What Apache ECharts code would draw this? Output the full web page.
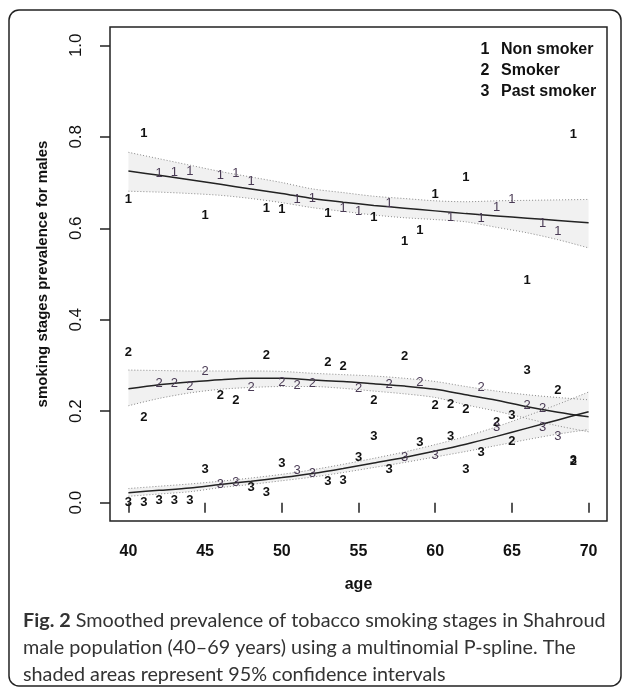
<!DOCTYPE html>
<html>
<head>
<meta charset="utf-8">
<script src="https://cdn.jsdelivr.net/npm/echarts@6/dist/echarts.min.js"></script>
<style>
html,body{margin:0;padding:0;background:#fff;}
#chart{width:630px;height:689px;}
</style>
</head>
<body>
<div id="chart"></div>
<script>
// Observed prevalence by single year of age
const ages = [40,41,42,43,44,45,46,47,48,49,50,51,52,53,54,55,56,57,58,59,60,61,62,63,64,65,66,67,68,69];
const nonSmoker = [0.662,0.808,0.720,0.723,0.725,0.627,0.716,0.720,0.703,0.644,0.642,0.662,0.665,0.633,0.644,0.636,0.624,0.655,0.572,0.596,0.675,0.624,0.712,0.622,0.646,0.664,0.487,0.611,0.594,0.806];
const smoker = [0.328,0.186,0.260,0.260,0.255,0.288,0.234,0.223,0.253,0.321,0.264,0.256,0.260,0.306,0.297,0.249,0.223,0.258,0.319,0.264,0.212,0.214,0.203,0.251,0.175,0.133,0.212,0.207,0.245,0.090];
const pastSmoker = [0.000,0.000,0.006,0.006,0.006,0.072,0.039,0.044,0.033,0.022,0.085,0.070,0.063,0.046,0.048,0.100,0.144,0.073,0.100,0.131,0.103,0.144,0.073,0.111,0.164,0.190,0.290,0.164,0.146,0.092];

// Smoothed P-spline fits and 95% CI
const fitAges = [40,42,44,46,48,50,52,54,56,58,60,62,64,66,68,70];
const nonFit   = [0.725,0.716,0.706,0.696,0.686,0.676,0.665,0.657,0.650,0.644,0.638,0.632,0.627,0.622,0.617,0.612];
const nonUpper = [0.766,0.752,0.738,0.724,0.712,0.700,0.686,0.678,0.670,0.665,0.660,0.658,0.660,0.661,0.662,0.663];
const nonLower = [0.681,0.679,0.676,0.672,0.665,0.656,0.645,0.637,0.629,0.623,0.619,0.614,0.602,0.590,0.575,0.557];
const smFit    = [0.249,0.258,0.264,0.269,0.272,0.272,0.268,0.265,0.260,0.255,0.248,0.236,0.224,0.210,0.198,0.188];
const smUpper  = [0.290,0.289,0.288,0.288,0.288,0.287,0.283,0.280,0.277,0.272,0.265,0.254,0.244,0.236,0.230,0.225];
const smLower  = [0.212,0.228,0.240,0.248,0.252,0.254,0.254,0.250,0.244,0.238,0.230,0.214,0.200,0.184,0.168,0.155];
const pastFit  = [0.022,0.027,0.032,0.040,0.047,0.055,0.064,0.075,0.087,0.099,0.113,0.128,0.145,0.163,0.181,0.199];
const pastUpper= [0.031,0.036,0.041,0.047,0.054,0.062,0.072,0.084,0.097,0.111,0.127,0.145,0.166,0.190,0.215,0.242];
const pastLower= [0.014,0.019,0.024,0.033,0.040,0.048,0.056,0.066,0.077,0.088,0.100,0.112,0.125,0.138,0.150,0.160];

const xTicks = [40,45,50,55,60,65,70];
const yTicks = [0,0.2,0.4,0.6,0.8,1.0];
const legendCodes = ['1','2','3'];
const legendNames = ['Non smoker','Smoker','Past smoker'];

function interp(arr, a){
  for(let i=0;i<fitAges.length-1;i++){
    if(a>=fitAges[i] && a<=fitAges[i+1]){
      const t=(a-fitAges[i])/(fitAges[i+1]-fitAges[i]);
      return arr[i]+(arr[i+1]-arr[i])*t;
    }
  }
  return arr[arr.length-1];
}

function bandSeries(lower, upper){
  return {
    type:'custom', silent:true, z:1, clip:true,
    data:[[55,0.5]],
    renderItem:function(params, api){
      const pts=[];
      for(let i=0;i<fitAges.length;i++) pts.push(api.coord([fitAges[i], upper[i]]));
      for(let i=fitAges.length-1;i>=0;i--) pts.push(api.coord([fitAges[i], lower[i]]));
      return {type:'polygon', shape:{points:pts}, style:{fill:'#f1f1f1', stroke:null}};
    }
  };
}
function lineSeries(vals, dotted){
  return {
    type:'line', silent:true, z: dotted?2:3, symbol:'none', smooth:0.3,
    data: fitAges.map((a,i)=>[a, vals[i]]),
    lineStyle: dotted ? {color:'#8a8a8a', width:1, type:[1,2]} : {color:'#222', width:1.5}
  };
}
function pointSeries(vals, code, lower, upper){
  return {
    type:'custom', silent:true, z:5, clip:false,
    data: ages.map((a,i)=>[a, vals[i]]),
    renderItem:function(params, api){
      const a=api.value(0), v=api.value(1);
      const c=api.coord([a,v]);
      const inBand = v >= interp(lower,a)-0.004 && v <= interp(upper,a)+0.004;
      return {type:'text', x:c[0], y:c[1], style:{
        text:code, align:'center', verticalAlign:'middle',
        fontFamily:'Liberation Sans, Arial, sans-serif', fontSize:13,
        fontWeight: inBand ? 'normal' : 'bold',
        fill: inBand ? '#4a3b55' : '#111'
      }};
    }
  };
}

const chart = echarts.init(document.getElementById('chart'), null, {renderer:'canvas'});
const legendGraphics = [];
legendCodes.forEach((c,i)=>{
  legendGraphics.push({type:'text', x:485, y:50+i*21, style:{text:c, fontFamily:'Liberation Sans, Arial', fontSize:16, fontWeight:'bold', fill:'#111', align:'center', verticalAlign:'middle'}});
  legendGraphics.push({type:'text', x:501, y:50+i*21, style:{text:legendNames[i], fontFamily:'"Liberation Sans", Arial', fontSize:16, fontWeight:'bold', fill:'#111', align:'left', verticalAlign:'middle'}});
});

chart.setOption({
  animation:false,
  backgroundColor:'#fff',
  grid:{left:110, right:23, top:27, bottom:168, show:true, borderColor:'#222', borderWidth:1.5, backgroundColor:'transparent'},
  xAxis:{
    type:'value', min:38.8, max:71.2,
    name:'age', nameLocation:'middle', nameGap:56,
    nameTextStyle:{fontFamily:'Liberation Sans, Arial', fontWeight:'bold', fontSize:16, color:'#111'},
    axisLine:{show:false},
    axisTick:{show:true, inside:false, length:10, lineStyle:{color:'#222', width:1.5}, customValues:xTicks},
    axisLabel:{show:true, margin:23, fontFamily:'Liberation Sans, Arial', fontWeight:'bold', fontSize:16, color:'#111', customValues:xTicks, formatter:v=>String(v)},
    splitLine:{show:false}
  },
  yAxis:{
    type:'value', min:-0.04, max:1.04,
    name:'smoking stages prevalence for males', nameLocation:'middle', nameGap:60,
    nameTextStyle:{fontFamily:'Liberation Sans, Arial', fontWeight:'bold', fontSize:15, color:'#111'},
    axisLine:{show:false},
    axisTick:{show:true, inside:false, length:10, lineStyle:{color:'#222', width:1.5}, customValues:yTicks},
    axisLabel:{show:true, rotate:90, margin:25, fontFamily:'Liberation Sans, Arial', fontSize:17, color:'#111', customValues:yTicks, formatter:v=>v.toFixed(1)},
    splitLine:{show:false}
  },
  graphic:[
    {type:'rect', shape:{x:9, y:10, width:612, height:676, r:10}, style:{fill:null, stroke:'#222', lineWidth:1.5}, z:-1, silent:true},
    {type:'text', left:23, top:607, style:{
      text:'{b|Fig. 2} Smoothed prevalence of tobacco smoking stages in Shahroud\nmale population (40\u201369 years) using a multinomial P-spline. The\nshaded areas represent 95% confidence intervals',
      fontFamily:'Lato, "Open Sans", sans-serif', fontSize:19.8, fill:'#333', lineHeight:27,
      rich:{b:{fontFamily:'Lato, "Open Sans", sans-serif', fontSize:19.8, fontWeight:'bold', fill:'#333', lineHeight:27}}
    }}
  ].concat(legendGraphics),
  series:[
    bandSeries(nonLower, nonUpper),
    bandSeries(smLower, smUpper),
    bandSeries(pastLower, pastUpper),
    lineSeries(nonUpper,true), lineSeries(nonLower,true),
    lineSeries(smUpper,true), lineSeries(smLower,true),
    lineSeries(pastUpper,true), lineSeries(pastLower,true),
    lineSeries(nonFit,false), lineSeries(smFit,false), lineSeries(pastFit,false),
    pointSeries(nonSmoker,'1',nonLower,nonUpper),
    pointSeries(smoker,'2',smLower,smUpper),
    pointSeries(pastSmoker,'3',pastLower,pastUpper)
  ]
});
</script>
</body>
</html>
